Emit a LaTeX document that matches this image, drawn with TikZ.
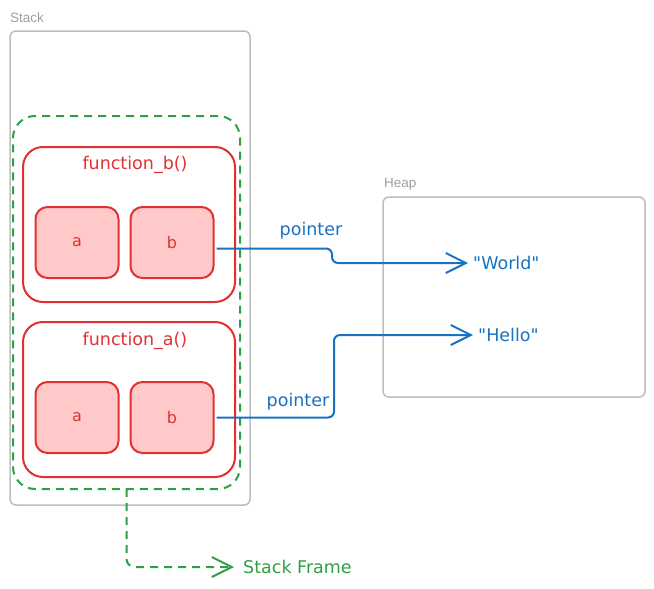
\documentclass[tikz,border=0pt]{standalone}
\usepackage{fontspec}
\setmainfont{Liberation Sans}
\newfontfamily\handfont{DejaVu Sans}
\usetikzlibrary{arrows.meta,positioning}

\definecolor{areagray}{HTML}{BDBDBD}
\definecolor{labelgray}{HTML}{9E9E9E}
\definecolor{funcred}{HTML}{E03131}
\definecolor{varfill}{HTML}{FFC9C9}
\definecolor{framegreen}{HTML}{2F9E44}
\definecolor{ptrblue}{HTML}{1971C2}

\begin{document}
\begin{tikzpicture}[x=1pt,y=-1pt,>={Straight Barb[length=20pt,width=20pt]},
  area/.style={draw=areagray,line width=1.5pt,rounded corners=6pt,inner sep=0pt,outer sep=0pt},
  area label/.style={text=labelgray,font=\fontsize{13.5}{16}\selectfont,anchor=west,inner sep=0pt},
  frame box/.style={draw=framegreen,line width=2pt,dash pattern=on 8pt off 6pt,rounded corners=22pt,
    minimum width=227pt,minimum height=373pt,inner sep=0pt,outer sep=0pt},
  func box/.style={draw=funcred,line width=2pt,rounded corners=20pt,minimum width=212pt,
    minimum height=155pt,inner sep=0pt,outer sep=0pt},
  var box/.style={draw=funcred,fill=varfill,line width=2pt,rounded corners=12pt,minimum width=83pt,
    minimum height=71pt,inner sep=0pt,outer sep=0pt,text=funcred,font=\handfont\fontsize{16}{19}\selectfont},
  func label/.style={text=funcred,font=\handfont\fontsize{17.5}{21}\selectfont,inner sep=0pt},
  hand text/.style={font=\handfont\fontsize{17.5}{21}\selectfont,inner sep=0pt},
  ptr/.style={->,draw=ptrblue,line width=2pt,rounded corners=6pt,shorten >=5pt},
  frame line/.style={->,draw=framegreen,line width=2pt,dash pattern=on 8pt off 6pt,rounded corners=8pt,shorten >=9pt}]
  \useasboundingbox (0,0) rectangle (654,589);

  % stack side
  \node[area label] (stacklabel) at (10,18) {Stack};
  \node[area,minimum width=240pt,minimum height=474pt] (stack) at (130,268) {};
  \node[frame box] (frame) at (126.5,302.5) {};

  \node[func box] (fb) at (129,224.5) {};
  \node[func label] (fbname) at (135,165) {function\_b()};
  \node[var box] (fba) at (77,242.5) {a};
  \node[var box] (fbb) [right=12pt of fba] {b};

  \node[func box] (fa) [below=20pt of fb] {};
  \node[func label] (faname) at (135,341) {function\_a()};
  \node[var box] (faa) at (77,417.5) {a};
  \node[var box] (fab) [right=12pt of faa] {b};

  % heap side
  \node[area label] (heaplabel) at (384,184) {Heap};
  \node[area,minimum width=262pt,minimum height=200pt] (heap) at (514,297) {};
  \node[hand text,text=ptrblue,anchor=west] (world) at (473,263) {"World"};
  \node[hand text,text=ptrblue,anchor=west] (hello) at (478,335) {"Hello"};

  % pointers
  \node[hand text,text=ptrblue] (ptrb) at (311,231) {pointer};
  \node[hand text,text=ptrblue] (ptra) at (298,402) {pointer};
  \draw[ptr] ([xshift=3pt,yshift=-6pt]fbb.east) -- (332,248.5) |- (world.west);
  \draw[ptr] ([xshift=3pt]fab.east) -- (334,417.5) |- (hello.west);

  % frame note
  \node[hand text,text=framegreen,anchor=west] (sframe) at (243,567) {Stack Frame};
  \draw[frame line] (frame.south) |- (sframe.west);
\end{tikzpicture}
\end{document}
